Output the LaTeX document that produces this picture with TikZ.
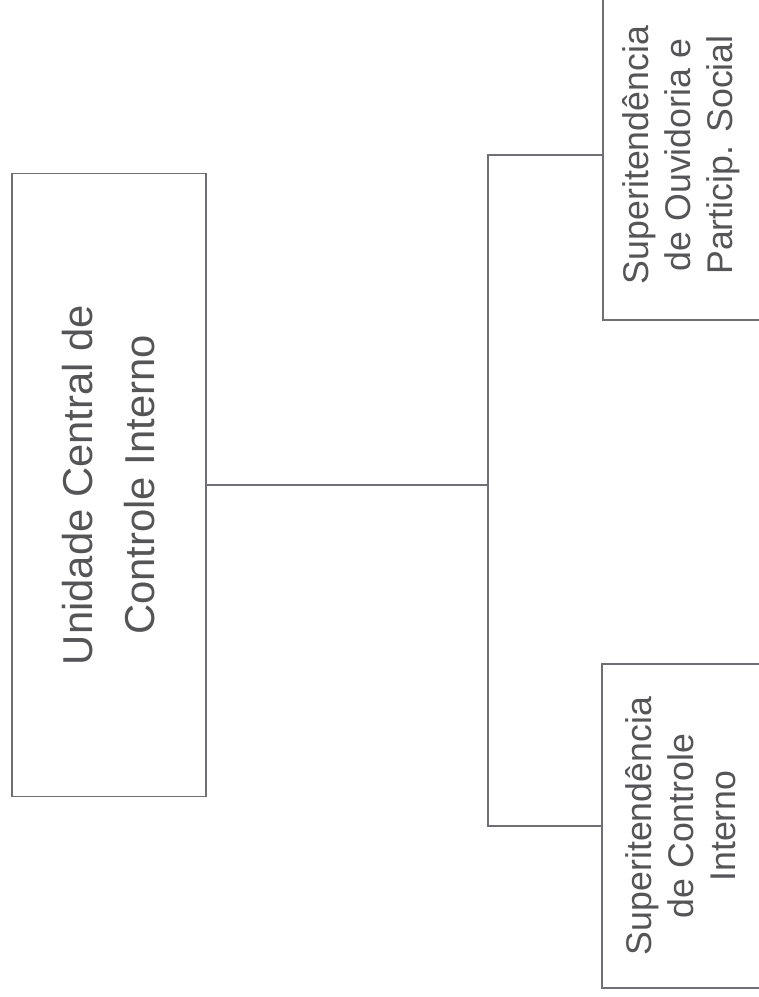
\documentclass[tikz,border=0pt]{standalone}
\usepackage{fontspec}
\setmainfont{Liberation Sans}
\definecolor{edge}{RGB}{112,110,118}
\definecolor{ink}{RGB}{85,85,88}
\tikzset{
  orgbox/.style={draw=edge, line width=1.8pt, fill=white, rotate=90,
    align=center, text=ink, inner sep=0pt},
  link/.style={draw=edge, line width=1.6pt}
}
\begin{document}
\begin{tikzpicture}[x=1pt, y=-1pt]
  \useasboundingbox (0,0) rectangle (759,997);
  % head unit
  \node[orgbox, minimum width=623pt, minimum height=194pt,
        font=\fontsize{41.8}{62}\selectfont] (main) at (109,485)
        {Unidade Central de\\Controle Interno};
  % subordinate units
  \node[orgbox, minimum width=330pt, minimum height=157pt,
        font=\fontsize{35.7}{42}\selectfont] (top) at (681.5,155)
        {Superitendência\\de Ouvidoria e\\Particip. Social};
  \node[orgbox, minimum width=324pt, minimum height=158pt,
        font=\fontsize{35.7}{42}\selectfont] (bot) at (681,826)
        {Superitendência\\de Controle\\Interno};
  % connectors
  \coordinate (bus) at (488,485);
  \draw[link] (main.south) -- (bus);
  \draw[link] (top.north) -| (bus) |- (bot.north);
\end{tikzpicture}
\end{document}
